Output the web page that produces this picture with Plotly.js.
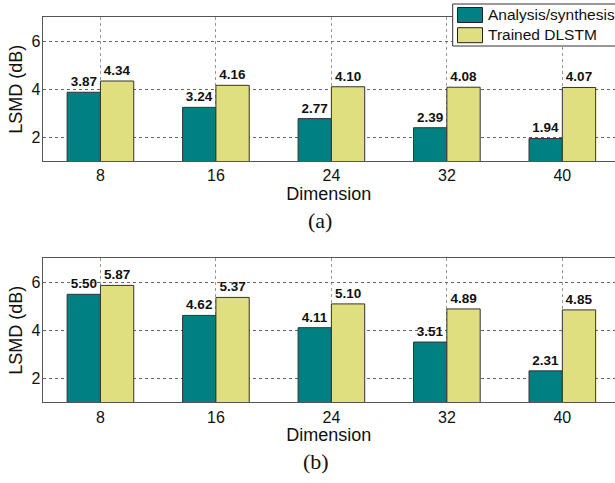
<!DOCTYPE html>
<html>
<head>
<meta charset="utf-8">
<script src="https://cdn.plot.ly/plotly-3.0.1.min.js"></script>
<style>html,body{margin:0;padding:0;background:#fff;}#chart{width:615px;height:483px;}</style>
</head>
<body>
<div id="chart"></div>
<script>
const dimensions = ['8', '16', '24', '32', '40'];
const seriesNames = ['Analysis/synthesis', 'Trained DLSTM'];
const panelA_analysis = [3.87, 3.24, 2.77, 2.39, 1.94];
const panelA_dlstm = [4.34, 4.16, 4.10, 4.08, 4.07];
const panelB_analysis = [5.50, 4.62, 4.11, 3.51, 2.31];
const panelB_dlstm = [5.87, 5.37, 5.10, 4.89, 4.85];
const yTicks = [2, 4, 6];
const panelLabels = ['(a)', '(b)'];
const xTitle = 'Dimension';
const yTitle = 'LSMD (dB)';

const W = 615, H = 483;
const teal = '#008080', yellow = '#dfdf80';
const sans = 'Liberation Sans, Arial, sans-serif';

function bar(x, y, name, color, xa, ya) {
  return {
    type: 'bar', x: x, y: y, name: name, xaxis: xa, yaxis: ya,
    marker: {color: color, line: {color: '#333', width: 1}},
    text: y.map(v => v.toFixed(2)), textposition: 'outside', cliponaxis: false,
    outsidetextfont: {family: sans, size: 13.5, color: '#111', weight: 'bold'},
    showlegend: false, hoverinfo: 'x+y'
  };
}

const data = [
  bar(dimensions, panelA_analysis, seriesNames[0], teal, 'x', 'y'),
  bar(dimensions, panelA_dlstm, seriesNames[1], yellow, 'x', 'y'),
  bar(dimensions, panelB_analysis, seriesNames[0], teal, 'x2', 'y2'),
  bar(dimensions, panelB_dlstm, seriesNames[1], yellow, 'x2', 'y2')
];

const xdom = [42.7 / W, 1];
function xax(anchor) {
  return {
    type: 'category', domain: xdom, anchor: anchor, range: [-0.5, 4.456],
    showline: true, mirror: true, linecolor: '#555', linewidth: 1,
    showgrid: true, gridcolor: '#999', griddash: 'dot', gridwidth: 1,
    ticks: '', tickfont: {family: sans, size: 16, color: '#111'},
    title: {text: xTitle, font: {family: sans, size: 18, color: '#111'}, standoff: 1},
    zeroline: false, fixedrange: true
  };
}
function yax(dom, anchor) {
  return {
    domain: dom, anchor: anchor, range: [1, 7],
    tickvals: yTicks, showline: true, mirror: false, linecolor: '#555', linewidth: 1,
    showgrid: true, gridcolor: '#666', griddash: 'dot', gridwidth: 1,
    ticks: '', ticklabelstandoff: -2, tickfont: {family: sans, size: 16, color: '#111'},
    title: {text: yTitle, font: {family: sans, size: 18, color: '#111'}, standoff: 4},
    zeroline: false, fixedrange: true
  };
}

const px = v => v / W, py = v => 1 - v / H;

const layout = {
  width: W, height: H,
  margin: {l: 0, r: 0, t: 0, b: 0},
  paper_bgcolor: '#fff', plot_bgcolor: '#fff',
  barmode: 'group', bargap: 0.423, bargroupgap: 0,
  showlegend: false,
  xaxis: xax('y'), yaxis: yax([py(161), py(17.3)], 'x'),
  xaxis2: xax('y2'), yaxis2: yax([py(402.3), py(258.3)], 'x2'),
  shapes: [
    {type: 'rect', xref: 'paper', yref: 'paper', x0: px(452.7), x1: 1.02, y0: py(46), y1: py(4),
     fillcolor: '#fff', line: {color: '#333', width: 1}, layer: 'above'},
    {type: 'rect', xref: 'paper', yref: 'paper', x0: px(457.5), x1: px(482.5), y0: py(22.5), y1: py(7.5),
     fillcolor: teal, line: {color: '#222', width: 1}, layer: 'above'},
    {type: 'rect', xref: 'paper', yref: 'paper', x0: px(457.5), x1: px(482.5), y0: py(42.7), y1: py(27.7),
     fillcolor: yellow, line: {color: '#222', width: 1}, layer: 'above'}
  ],
  annotations: [
    {xref: 'paper', yref: 'paper', x: px(486), y: py(15), xanchor: 'left', yanchor: 'middle', showarrow: false,
     text: seriesNames[0], font: {family: sans, size: 15.5, color: '#111'}},
    {xref: 'paper', yref: 'paper', x: px(486), y: py(35), xanchor: 'left', yanchor: 'middle', showarrow: false,
     text: seriesNames[1], font: {family: sans, size: 15.5, color: '#111'}},
    {xref: 'paper', yref: 'paper', x: px(320), y: py(221), xanchor: 'center', yanchor: 'middle', showarrow: false,
     text: panelLabels[0], font: {family: 'Liberation Serif, Times New Roman, serif', size: 22, color: '#111'}},
    {xref: 'paper', yref: 'paper', x: px(316), y: py(461.5), xanchor: 'center', yanchor: 'middle', showarrow: false,
     text: panelLabels[1], font: {family: 'Liberation Serif, Times New Roman, serif', size: 22, color: '#111'}}
  ]
};

Plotly.newPlot('chart', data, layout, {displayModeBar: false, staticPlot: true});
</script>
</body>
</html>
